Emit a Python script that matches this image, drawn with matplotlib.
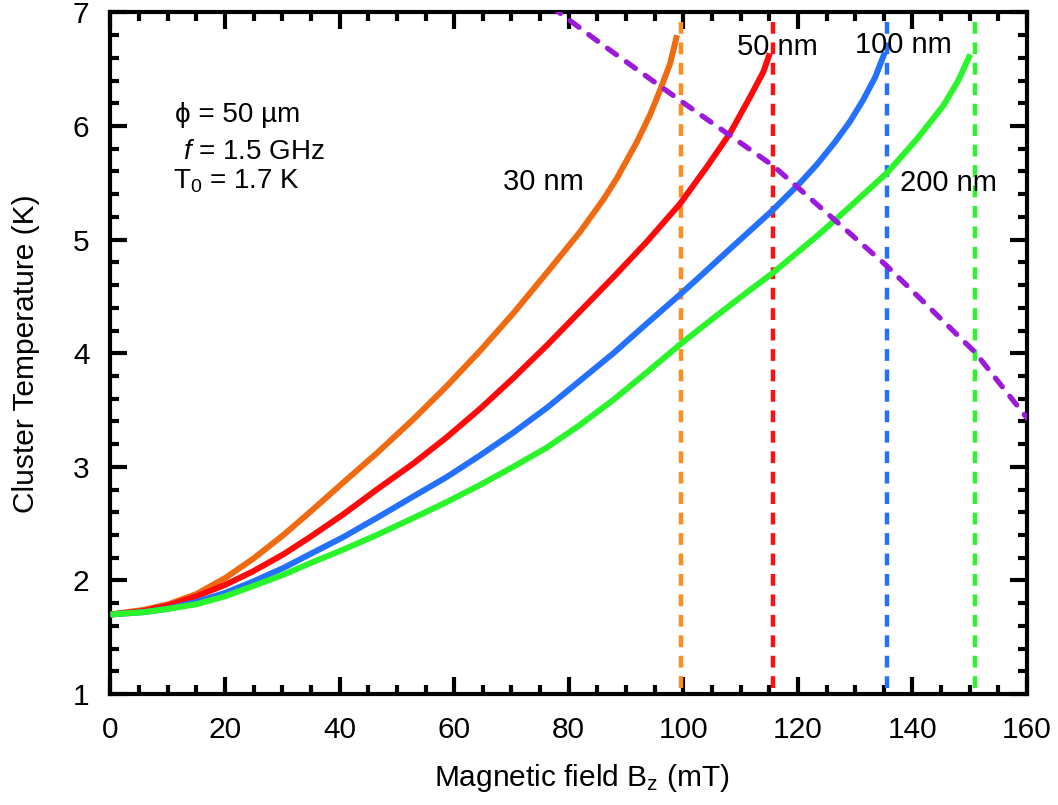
import numpy as np
import matplotlib
matplotlib.use("Agg")
import matplotlib.pyplot as plt
from matplotlib.ticker import MultipleLocator

plt.rcParams['font.family'] = ['Liberation Sans', 'DejaVu Sans']
plt.rcParams['mathtext.fontset'] = 'custom'
plt.rcParams['mathtext.rm'] = 'Liberation Sans'
plt.rcParams['mathtext.it'] = 'Liberation Sans:italic'

# curves (B in mT, T in K)
b_30 = [0, 5.7, 10.1, 15.0, 20.0, 24.9, 30.2, 34.8, 40.6, 46.5, 52.9, 58.7, 64.5, 70.3,
        76.2, 82.0, 86.0, 88.4, 91.9, 94.2, 95.9, 97.7, 98.9]
t_30 = [1.70, 1.74, 1.79, 1.88, 2.02, 2.19, 2.40, 2.60, 2.86, 3.12, 3.42, 3.71, 4.02, 4.35,
        4.71, 5.07, 5.35, 5.54, 5.86, 6.10, 6.31, 6.55, 6.80]

b_50 = [0, 5.7, 10.1, 15.0, 20.0, 24.9, 30.2, 34.8, 40.6, 46.5, 52.9, 58.7, 64.5, 70.3,
        76.2, 82.0, 87.8, 93.6, 99.5, 104.1, 108.2, 111.7, 114.0, 115.1]
t_50 = [1.70, 1.73, 1.78, 1.86, 1.96, 2.08, 2.23, 2.38, 2.58, 2.80, 3.03, 3.26, 3.51, 3.78,
        4.07, 4.37, 4.67, 4.98, 5.32, 5.64, 5.94, 6.26, 6.48, 6.64]

b_100 = [0, 5.7, 10.1, 15.0, 20.0, 24.9, 30.2, 34.8, 40.6, 46.5, 52.9, 58.7, 64.5, 70.3,
         76.2, 82.0, 87.8, 93.6, 99.5, 103.0, 108.2, 115.4, 120.4, 123.3, 126.5, 129.1,
         131.4, 133.5, 135.2]
t_100 = [1.70, 1.72, 1.75, 1.81, 1.89, 1.99, 2.11, 2.23, 2.38, 2.55, 2.74, 2.91, 3.10, 3.30,
         3.52, 3.76, 4.00, 4.26, 4.52, 4.68, 4.92, 5.25, 5.50, 5.66, 5.86, 6.04,
         6.23, 6.43, 6.65]

b_200 = [0, 5.7, 10.1, 15.0, 20.0, 24.9, 30.2, 34.8, 40.6, 46.5, 52.9, 58.7, 64.5, 70.3,
         76.2, 82.0, 87.8, 93.6, 99.5, 103.0, 105.8, 110.7, 115.7, 123.3, 129.1, 135.6,
         140.7, 145.4, 148.0, 150.1]
t_200 = [1.70, 1.72, 1.75, 1.79, 1.86, 1.95, 2.05, 2.15, 2.27, 2.40, 2.55, 2.69, 2.84, 3.00,
         3.17, 3.37, 3.59, 3.83, 4.08, 4.22, 4.33, 4.52, 4.71, 5.03, 5.29, 5.59,
         5.88, 6.18, 6.40, 6.63]

# critical fields (vertical dashed lines)
b_crit = [99.6, 115.7, 135.5, 150.9]

# limit line (purple dashed)
b_lim = [77, 85.5, 99.6, 115.7, 135.5, 150.9, 160]
t_lim = [7.05, 6.73, 6.22, 5.65, 4.77, 4.01, 3.43]

curve_cols = ['#f06a12', '#ff0a0a', '#2471ff', '#2af42a']
dash_cols = ['#ff8c1e', '#ff1010', '#2471ff', '#2af42a']
labels = ['30 nm', '50 nm', '100 nm', '200 nm']
label_pos = [(68.5, 5.51), (109.4, 6.70), (130.0, 6.71), (137.8, 5.50)]

fig = plt.figure(figsize=(10.58, 8.05), dpi=100)
ax = fig.add_axes([0.1044, 0.1379, 0.8663, 0.8466])

for (bx, ty), c in zip([(b_30, t_30), (b_50, t_50), (b_100, t_100), (b_200, t_200)], curve_cols):
    ax.plot(bx, ty, color=c, lw=4.3, solid_capstyle='butt', solid_joinstyle='round', zorder=3)

for bc, c in zip(b_crit, dash_cols):
    ax.plot([bc, bc], [6.92, 1.0], color=c, lw=3.2, dashes=(2.65, 1.95), zorder=2)

ax.plot(b_lim, t_lim, color='#9b1adb', lw=3.8, dashes=(2.1, 2.3),
        dash_capstyle='round', zorder=4)

for lab, (x, y) in zip(labels, label_pos):
    ax.text(x, y, lab, fontsize=21, va='center', ha='left', zorder=5)

ax.text(11.3, 6.10, 'ϕ = 50 µm', fontsize=20, va='center')
ax.text(12.6, 5.77, r'$\it{f}$ = 1.5 GHz', fontsize=20, va='center')
ax.text(11.0, 5.51, r'T$_0$ = 1.7 K', fontsize=20, va='center')

ax.set_xlim(0, 160)
ax.set_ylim(1, 7)
ax.xaxis.set_major_locator(MultipleLocator(20))
ax.xaxis.set_minor_locator(MultipleLocator(5))
ax.yaxis.set_major_locator(MultipleLocator(1))
ax.yaxis.set_minor_locator(MultipleLocator(0.2))
ax.tick_params(which='both', direction='in', top=True, right=True, width=3)
ax.tick_params(which='major', length=12.5)
ax.tick_params(which='minor', length=6.5)
ax.tick_params(axis='x', labelsize=21.5, pad=16)
ax.tick_params(axis='y', labelsize=21.5, pad=15)
for s in ax.spines.values():
    s.set_linewidth(3)

ax.set_xlabel(r'Magnetic field B$_\mathrm{z}$ (mT)', fontsize=21.5, labelpad=13)
ax.set_ylabel('Cluster Temperature (K)', fontsize=21.5, labelpad=24)
ax.xaxis.set_label_coords(0.5145, -0.1)
ax.xaxis.label.set_va('top')

fig.savefig('out.png', dpi=100)
